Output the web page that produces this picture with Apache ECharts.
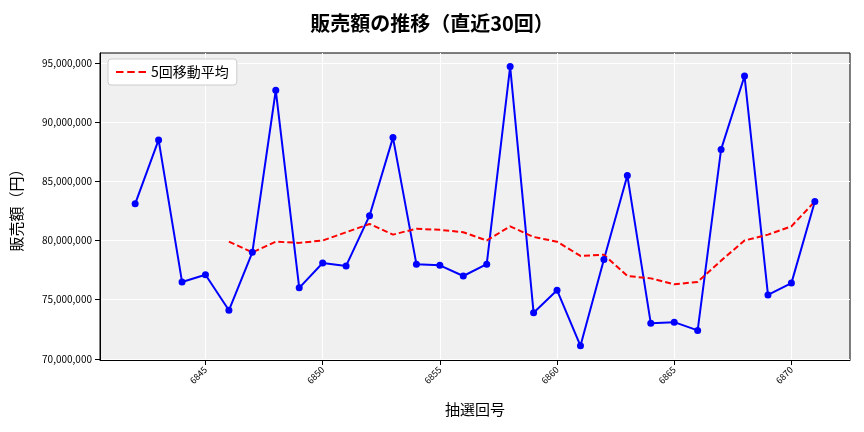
<!DOCTYPE html><html><head><meta charset="utf-8"><script src="https://cdn.jsdelivr.net/npm/echarts@6/dist/echarts.min.js"></script></head><body style="margin:0"><div id="c" style="width:864px;height:432px"></div><script>
const draws=[6842,6843,6844,6845,6846,6847,6848,6849,6850,6851,6852,6853,6854,6855,6856,6857,6858,6859,6860,6861,6862,6863,6864,6865,6866,6867,6868,6869,6870,6871];
const sales=[83.1,88.5,76.5,77.1,74.1,79.0,92.7,76.0,78.1,77.85,82.1,88.7,78.0,77.9,77.0,78.0,94.7,73.9,75.8,71.1,78.4,85.5,73.0,73.1,72.4,87.7,93.9,75.4,76.4,83.3];
const maDraws=draws.slice(4);
const ma=[79.9,79.0,79.9,79.8,80.0,80.7,81.4,80.5,81.0,80.9,80.7,80.0,81.2,80.3,79.9,78.7,78.8,77.0,76.8,76.3,76.5,78.3,80.0,80.5,81.2,83.3];
const xTicks=[6845,6850,6855,6860,6865,6870];
const yTicks=[70e6,75e6,80e6,85e6,90e6,95e6];
const f="'Noto Sans CJK JP','Noto Sans',sans-serif";
const ch=echarts.init(document.getElementById('c'));
ch.setOption({
title:{text:'販売額の推移（直近30回）',left:'center',top:8,textStyle:{fontFamily:f,fontSize:20,fontWeight:'bold',color:'#000'}},
legend:{left:108,top:59,orient:'vertical',backgroundColor:'#fff',borderColor:'#ccc',borderWidth:1,borderRadius:3,padding:[6,8],itemWidth:30,textStyle:{fontFamily:f,fontSize:14,color:'#000'},data:[{name:'5回移動平均',icon:'path://M0,0h4v1h-4zM6,0h4v1h-4zM12,0h4v1h-4z',itemStyle:{color:'red'}}]},
grid:{left:100,right:14,top:53,bottom:72,backgroundColor:'#f0f0f0',show:true,borderWidth:1,borderColor:'#000'},
xAxis:{type:'value',min:6840.5,max:6872.5,name:'抽選回号',nameLocation:'middle',nameGap:42,nameTextStyle:{fontFamily:f,fontSize:15,color:'#000'},
axisLine:{show:true,lineStyle:{color:'#000'}},axisTick:{show:true,customValues:xTicks,lineStyle:{color:'#000'}},axisLabel:{customValues:xTicks,rotate:45,fontSize:9,color:'#000',fontFamily:f,formatter:v=>String(v)},splitLine:{show:true,lineStyle:{color:'#fff'}}},
yAxis:{type:'value',min:69.9e6,max:95.85e6,name:'販売額（円）',nameLocation:'middle',nameGap:76,nameTextStyle:{fontFamily:f,fontSize:15,color:'#000'},
axisLine:{show:true,lineStyle:{color:'#000'}},axisTick:{show:true,customValues:yTicks,lineStyle:{color:'#000'}},axisLabel:{customValues:yTicks,fontSize:10,color:'#000',fontFamily:f,formatter:v=>v.toLocaleString('en-US')},splitLine:{show:true,lineStyle:{color:'#fff'}}},
series:[
{name:'販売額',type:'line',data:draws.map((d,i)=>[d,sales[i]*1e6]),color:'blue',lineStyle:{width:2},symbol:'circle',symbolSize:7,itemStyle:{color:'blue'}},
{name:'5回移動平均',type:'line',data:maDraws.map((d,i)=>[d,ma[i]*1e6]),color:'red',lineStyle:{width:2,type:[6,3]},symbol:'none'}
]});
</script></body></html>
